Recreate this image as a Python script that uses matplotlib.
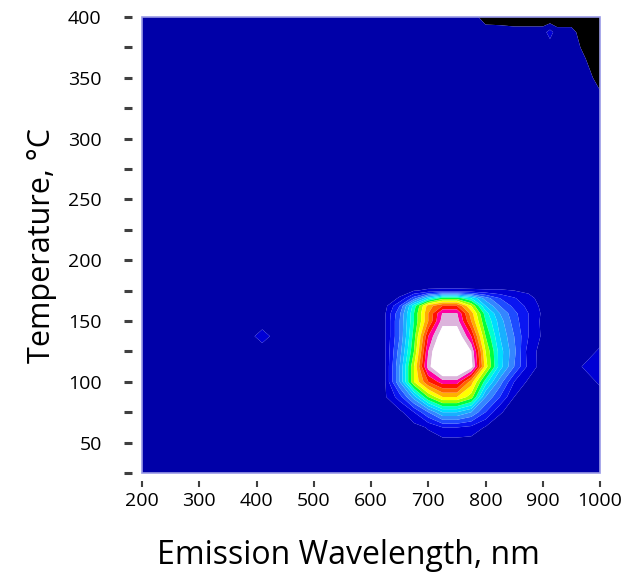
import numpy as np
import matplotlib.pyplot as plt
from matplotlib.patches import Rectangle

plt.rcParams['font.family'] = ['Open Sans', 'DejaVu Sans']

# grid of the intensity map (wavelength nm, temperature C)
wl_blob = [600, 625, 650, 675, 700, 725, 750, 775, 800, 825, 850, 875, 900]
t_blob = [25, 50, 62.5, 75, 87.5, 100, 112.5, 125, 137.5, 150, 156.25, 162.5,
          168.75, 175, 181.25, 200]
wl_left = [200, 380, 410, 440, 575]
wl_right = [912.5, 925, 950, 975, 1000]
t_top = [250, 300, 325, 350, 375, 387.5, 400]

# emission level, rows from 25 C up to 200 C
blob = [
    [0, 0, 0, 0, 0, 0, 0, 0, 0, 0, 0, 0, 0],
    [0, 0, 0, 0, 0, 0, 0, 0, 0, 0, 0, 0, 0],
    [0, 0, 0, 0.1, 0.6, 1.5, 1.5, 1.2, 0.4, 0, 0, 0, 0],
    [0, 0, 0.2, 1.5, 3.5, 5.5, 5.5, 4.5, 2.5, 0.6, 0.1, 0, 0],
    [0, 0.4, 2, 5, 8.5, 10.5, 10.5, 9, 4.5, 2.5, 0.5, 0.1, 0],
    [0, 0.5, 4.5, 9.5, 12.5, 14, 14, 11, 7, 4, 1.5, 0.3, 0],
    [0, 0.5, 4.5, 9.5, 15, 18, 18, 16, 10, 6, 3.5, 1.2, 0],
    [0, 0.5, 4, 8.5, 14.5, 18, 18, 15.5, 9.5, 6, 3.8, 1.0, 0.1],
    [0, 0.5, 3.5, 8, 13.5, 16.5, 16.5, 13.5, 8.5, 5.5, 3.5, 1.5, 0.3],
    [0, 0.5, 3.5, 7.5, 11.5, 15, 15, 11.5, 7.5, 5, 3, 1.5, 0.2],
    [0, 0.45, 3.3, 7.5, 11.5, 14.6, 14.6, 11, 7, 4.5, 2.8, 1.5, 0.3],
    [0, 0.2, 2.5, 7, 11, 12.5, 12.5, 9.5, 5.5, 3.5, 2.2, 1.2, 0.2],
    [0, 0, 0.6, 3, 6, 8, 8, 6.5, 4, 2.5, 1.6, 0.8, 0.1],
    [0, 0, 0.1, 0.45, 0.65, 0.7, 0.7, 0.65, 0.6, 0.6, 0.5, 0.3, 0],
    [0, 0, 0, 0, 0, 0, 0, 0, 0, 0, 0, 0, 0],
    [0, 0, 0, 0, 0, 0, 0, 0, 0, 0, 0, 0, 0],
]

# top right corner (black = no signal), rows 325 C .. 400 C, cols 775 .. 1000 nm
corner = [
    [0, 0, 0, 0, 0, 0, 0, 0, 0, 0, 0.2],
    [0, 0, 0, 0, 0, 0, 0, 0, 0, 0, -1.0],
    [0, 0, 0, 0, 0, 0, 0, 0, 0, -0.8, -1.5],
    [0, 0, 0.1, 0.1, 0.1, 0.1, 0.9, 0, 0, -1.5, -1.5],
    [0, -1, -1.2, -1.5, -1.5, -1.5, -1.5, -1.5, -1.5, -1.5, -1.5],
]

# small weak spots: (wavelength, temperature, level)
spots = [(410, 137.5, 0.9), (975, 112.5, 0.7), (1000, 100, 0.7),
         (1000, 112.5, 1.0), (1000, 125, 0.7)]

wl_grid = wl_left + wl_blob + wl_right
t_grid = t_blob + t_top
Z = np.zeros((len(t_grid), len(wl_grid)))
Z[0:len(t_blob), len(wl_left):len(wl_left) + len(wl_blob)] = blob
c0 = wl_grid.index(775)
r0 = t_grid.index(325)
Z[r0:r0 + 5, c0:c0 + 11] = corner
for w, t, v in spots:
    Z[t_grid.index(t), wl_grid.index(w)] = v

levels = [-2, -0.5] + [k + 0.5 for k in range(16)] + [20]
colors = ['#000000', '#0000a8',
          '#0000d4', '#0a16f2', '#1e4cff', '#3486ff', '#18b0ff', '#00dcff',
          '#00ffd0', '#00ff3c', '#a0ff00', '#ffff00', '#ffb000', '#ff6400',
          '#ff1400', '#ff00a0', '#dcb4dc', '#ffffff']

fig = plt.figure(figsize=(6.35, 5.76), dpi=100)
ax = fig.add_axes([0.2236, 0.1788, 0.7214, 0.7917])
ax.contourf(wl_grid, t_grid, Z, levels=levels, colors=colors, antialiased=True)

ax.set_xlim(200, 1000)
ax.set_ylim(25, 400)
ax.set_xticks(range(200, 1001, 100))
ax.set_yticks(range(50, 401, 50))
ax.set_yticks(range(25, 401, 50), minor=True)

for s in ax.spines.values():
    s.set_visible(False)
ax.spines['left'].set_position(('outward', 7))
ax.spines['bottom'].set_position(('outward', 5.5))
ax.add_patch(Rectangle((0, 0), 1, 1, transform=ax.transAxes, fill=False,
                       edgecolor='#9a9ae6', linewidth=1.2, zorder=5, clip_on=False))

ax.tick_params(axis='y', which='both', direction='out', length=6, width=2.2,
               color='#404040', pad=16, labelsize=14)
ax.tick_params(axis='x', which='both', direction='out', length=4.5, width=1.5,
               color='#404040', pad=4, labelsize=14)

ax.set_xlabel('Emission Wavelength, nm', fontsize=23)
ax.xaxis.set_label_coords(0.45, -0.145)
ax.set_ylabel('Temperature, °C', fontsize=22, labelpad=8)

fig.savefig('out.png', dpi=100)
